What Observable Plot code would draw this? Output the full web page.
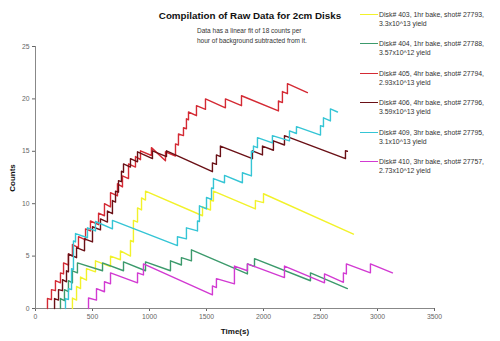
<!DOCTYPE html>
<html><head><meta charset="utf-8">
<script src="https://cdn.jsdelivr.net/npm/d3@7"></script>
<script src="https://cdn.jsdelivr.net/npm/@observablehq/plot@0.6"></script>
<style>
body{margin:0;background:#fff;font-family:"Liberation Sans",Arial,sans-serif;}
#wrap{position:relative;width:500px;height:341px;overflow:hidden;}
#title{position:absolute;left:0;width:500px;top:10px;text-align:center;font-weight:bold;font-size:9.8px;color:#111;}
#sub{position:absolute;left:197px;top:26px;font-size:6.5px;line-height:9.5px;color:#333;}
.leg{position:absolute;left:360px;font-size:6.9px;line-height:9.3px;color:#333;}
.leg .sw{position:absolute;left:0;top:4px;width:18px;height:0;border-top:1.4px solid;}
.leg .tx{position:absolute;left:19px;top:0;white-space:nowrap;}
#ylab{position:absolute;left:12px;top:178px;transform:translate(-50%,-50%) rotate(-90deg);font-weight:bold;font-size:8px;color:#111;}
#xlab{position:absolute;left:235px;top:331px;transform:translate(-50%,-50%);font-weight:bold;font-size:8px;color:#111;}
</style>
</head><body>
<div id="wrap">
<div id="chart"></div>
<div id="title">Compilation of Raw Data for 2cm Disks</div>
<div id="sub">Data has a linear fit of 18 counts per<br>hour of background subtracted from it.</div>
<div id="ylab">Counts</div>
<div id="xlab">Time(s)</div>
<div id="legend"></div>
</div>
<script>
const xTicks = [0, 500, 1000, 1500, 2000, 2500, 3000, 3500];
const yTicks = [0, 5, 10, 15, 20, 25];

const diskNames = ["Disk# 403", "Disk# 404", "Disk# 405", "Disk# 406", "Disk# 409", "Disk# 410"];
const legendLine1 = [
  "Disk# 403, 1hr bake, shot# 27793,",
  "Disk# 404, 1hr bake, shot# 27788,",
  "Disk# 405, 4hr bake, shot# 27794,",
  "Disk# 406, 4hr bake, shot# 27796,",
  "Disk# 409, 3hr bake, shot# 27795,",
  "Disk# 410, 3hr bake, shot# 27757,"
];
const legendLine2 = [
  "3.3x10^13 yield",
  "3.57x10^12 yield",
  "2.93x10^13 yield",
  "3.59x10^13 yield",
  "3.1x10^13 yield",
  "2.73x10^12 yield"
];
const diskColors = ["#f2f22a", "#3c9a6c", "#d42a34", "#6a1016", "#35c5d5", "#d23ad2"];

// Disk 403 (yellow)
const disk403T = [324,324,360,360,395,395,447,447,526,526,658,658,745,745,833,833,859,859,895,895,930,930,965,965,1465,1465,1535,1535,1561,1561,1929,1929,2000,2000,2789];
const disk403V = [0,1.0,0.8,2.1,1.9,3.0,2.7,3.8,3.5,4.55,4.0,5.0,4.65,5.5,5.0,6.5,6.35,8.4,8.25,9.6,9.4,10.55,10.35,11.2,8.85,9.7,9.4,10.35,10.25,11.2,9.5,10.3,10.1,10.95,7.1];

// Disk 404 (green)
const disk404T = [219,219,254,254,289,289,324,324,368,368,588,588,772,772,965,965,1184,1184,1280,1280,1368,1368,1859,1859,1921,1921,2412,2412,2736];
const disk404V = [0,0.95,0.75,1.8,1.6,2.65,2.45,3.6,3.4,4.35,3.6,4.35,3.6,4.45,3.6,4.45,3.6,4.55,4.15,4.85,4.55,5.6,3.3,4.25,4.0,4.75,2.65,3.4,1.9];

// Disk 405 (red)
const disk405T = [105,105,140,140,175,175,219,219,246,246,289,289,324,324,377,377,439,439,482,482,553,553,605,605,658,658,719,719,763,763,816,816,877,877,921,921,1017,1017,1140,1140,1228,1228,1254,1254,1298,1298,1324,1324,1342,1342,1412,1412,1491,1491,1666,1666,1807,1807,2131,2131,2166,2166,2210,2210,2385];
const disk405V = [0,0.95,0.85,1.8,1.7,2.65,2.45,3.4,3.3,4.35,4.15,5.2,5.0,6.1,5.8,6.85,6.55,7.6,7.4,8.35,8.0,9.1,8.85,10.0,9.7,11.05,10.75,11.9,11.6,12.65,12.4,13.8,13.5,14.5,14.2,15.05,14.6,15.35,14.1,14.95,14.55,15.7,15.6,16.65,16.5,17.25,17.15,18.1,18.0,18.75,18.4,19.35,19.0,20.0,19.15,20.0,19.35,20.3,18.85,19.8,19.65,20.7,20.5,21.45,20.6];

// Disk 406 (dark red)
const disk406T = [167,167,202,202,237,237,272,272,289,289,360,360,430,430,500,500,570,570,631,631,675,675,702,702,728,728,754,754,772,772,833,833,895,895,1026,1026,1149,1149,1552,1552,1587,1587,1622,1622,1903,1903,1991,1991,2087,2087,2184,2184,2719,2719,2736];
const disk406V = [0,0.95,0.8,1.8,1.7,2.75,2.55,3.6,3.5,5.2,4.85,5.8,5.5,6.65,6.35,7.8,7.5,8.55,8.25,9.3,9.05,10.3,10.15,11.2,11.1,12.2,12.1,13.1,13.0,13.8,13.5,14.3,14.0,14.95,14.3,15.05,14.5,15.05,13.05,13.9,13.75,14.65,14.5,15.5,14.3,15.05,14.65,15.5,15.1,16.0,15.6,16.5,14.3,15.05,15.0];

// Disk 409 (cyan)
const disk409T = [263,263,289,289,316,316,333,333,351,351,456,456,526,526,675,675,1245,1245,1324,1324,1421,1421,1438,1438,1500,1500,1544,1544,1561,1561,1658,1658,1815,1815,1894,1894,1912,1912,1947,1947,2078,2078,2228,2228,2289,2289,2500,2500,2526,2526,2587,2587,2649];
const disk409V = [0,0.95,0.85,1.9,1.8,3.8,3.7,6.45,6.35,7.15,6.75,7.7,7.4,8.3,7.6,8.4,6.0,6.85,6.65,7.7,7.4,8.35,8.3,9.8,9.5,10.6,10.4,11.5,11.45,12.4,12.0,12.7,12.0,12.95,12.65,15.0,14.9,15.5,15.35,16.3,15.8,16.5,16.0,16.95,16.7,17.35,16.55,17.45,17.35,18.2,17.9,19.05,18.75];

// Disk 410 (magenta)
const disk410T = [465,465,535,535,605,605,658,658,895,895,947,947,1552,1552,1587,1587,1745,1745,1859,1859,2184,2184,2535,2535,2701,2701,2727,2727,2938,2938,3131];
const disk410V = [0,1.0,0.8,1.9,1.6,2.55,2.35,3.4,2.45,3.4,3.2,4.25,1.3,2.15,2.0,2.85,2.35,4.05,3.6,4.25,2.95,4.05,2.45,3.3,2.5,3.4,3.3,4.25,3.4,4.25,3.4];

const seriesT = [disk403T, disk404T, disk405T, disk406T, disk409T, disk410T];
const seriesV = [disk403V, disk404V, disk405V, disk406V, disk409V, disk410V];
const rows = [];
seriesT.forEach((ts, i) => ts.forEach((t, j) => rows.push({disk: diskNames[i], t, v: seriesV[i][j]})));

const chart = Plot.plot({
  width: 500, height: 341,
  marginLeft: 35, marginRight: 66, marginTop: 46, marginBottom: 33,
  style: {fontFamily: '"Liberation Sans", Arial, sans-serif', fontSize: "6.8px", background: "transparent"},
  x: {domain: [0, 3500]},
  y: {domain: [0, 25]},
  color: {domain: diskNames, range: diskColors},
  marks: [
    Plot.axisX({ticks: xTicks, tickFormat: d => String(d), tickSize: 3, tickPadding: 3, color: "#666", label: null}),
    Plot.axisY({ticks: yTicks, tickFormat: d => String(d), tickSize: 3, tickPadding: 3, color: "#666", label: null}),
    Plot.ruleY([0], {stroke: "#888"}),
    Plot.ruleX([0], {stroke: "#888"}),
    Plot.line(rows, {x: "t", y: "v", z: "disk", stroke: "disk", strokeWidth: 1.4, curve: "linear"})
  ]
});
document.getElementById("chart").appendChild(chart);

const leg = document.getElementById("legend");
diskNames.forEach((d, i) => {
  const e = document.createElement("div");
  e.className = "leg";
  e.style.top = (9.5 + i * 29.5) + "px";
  e.innerHTML = `<div class="sw" style="border-color:${diskColors[i]}"></div><div class="tx">${legendLine1[i]}<br>${legendLine2[i]}</div>`;
  leg.appendChild(e);
});
</script>
</body></html>
